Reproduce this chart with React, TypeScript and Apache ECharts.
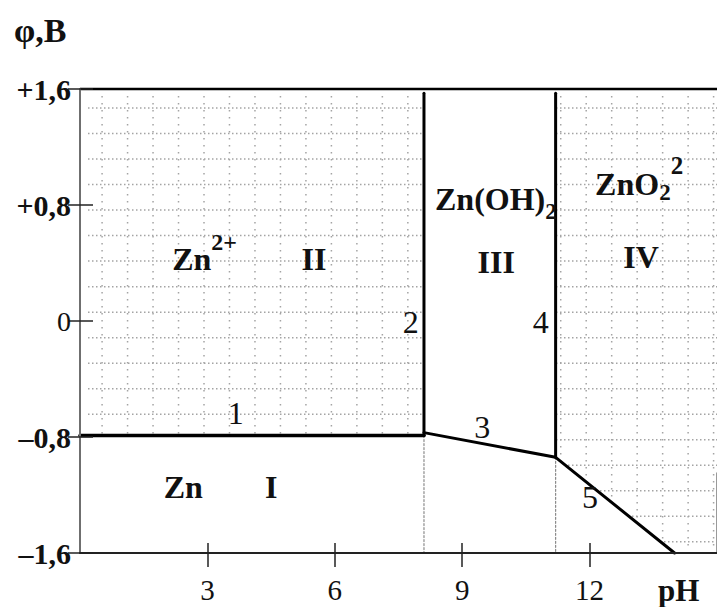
import React, { useEffect, useRef } from 'react';
import * as echarts from 'echarts';

const SERIF = '"Liberation Serif", "Times New Roman", serif';
const INK = '#111';
const DOT = '#a4a4a4';

// Axis ticks and their printed labels
const pHTicks = [3, 6, 9, 12];
const potentialTicks = [-1.6, -0.8, 0, 0.8, 1.6];
const potentialTickLabels = ['–1,6', '–0,8', '0', '+0,8', '+1,6'];

// Equilibrium boundaries of the Zn – H2O system, points are [pH, φ in V]
const line1 = [[0, -0.79], [8.1, -0.79]];
const line2 = [[8.1, -0.79], [8.1, 1.57]];
const line3 = [[8.1, -0.77], [11.2, -0.94]];
const line4 = [[11.2, -0.94], [11.2, 1.57]];
const line5 = [[11.2, -0.94], [14.0, -1.6]];

// Frame pieces and the dotted drop-lines under boundaries 2 and 4
const frameTop = [[0, 1.6], [15, 1.6]];
const frameRight = [[15, -1.6], [15, -1.05]];
const drop2 = [[8.1, -0.79], [8.1, -1.6]];
const drop4 = [[11.2, -0.94], [11.2, -1.6]];

// Stability fields of Zn and Zn(OH)2 are left unshaded
const zoneZn = [[0, -1.6], ...line1, ...line3, line5[1]];
const zoneHydroxide = [[8.1, 1.6], ...line3, [11.2, 1.6]];
const plainZones = [zoneZn, zoneHydroxide];

// Field captions (rich text) and their anchors [pH, φ]
const regionCaptions = [
  '{m|Zn}{sup|2+}',
  '{m|II}',
  '{m|Zn(OH)}{sub|2}',
  '{m|III}',
  '{m|ZnO}{sub2|2}{sup2|2}',
  '{m|IV}',
  '{m|Zn}',
  '{m|I}',
];
const regionAnchors = [
  [2.17, 0.43],
  [5.51, 0.43],
  [8.36, 0.84],
  [9.8, 0.41],
  [12.13, 0.945],
  [13.21, 0.44],
  [2.43, -1.145],
  [4.5, -1.145],
];
const regionAlign = ['left', 'center', 'left', 'center', 'left', 'center', 'center', 'center'];

// Boundary numbers and their anchors [pH, φ]
const boundaryNumbers = ['1', '2', '3', '4', '5'];
const boundaryAnchors = [
  [3.67, -0.634],
  [7.79, -0.007],
  [9.47, -0.731],
  [10.85, -0.007],
  [12.01, -1.214],
];

// Background dot grid spacing
const GRID_START_PH = 0.52;
const GRID_STEP_PH = 0.6;
const GRID_START_V = 1.469;
const GRID_STEP_V = 0.176;

const bold = (size: number, extra: any = {}) => ({
  fontFamily: SERIF,
  fontWeight: 'bold',
  fontSize: size,
  color: INK,
  fill: INK,
  verticalAlign: 'middle',
  ...extra,
});

const captionRich = {
  m: bold(32, { lineHeight: 34 }),
  sup: bold(24, { lineHeight: 24, padding: [0, 0, 34, 0] }),
  sub: bold(23, { lineHeight: 23, padding: [25, 0, 0, 0] }),
  sup2: bold(25, { lineHeight: 25, padding: [0, 0, 36, 0] }),
  sub2: bold(23, { lineHeight: 23, padding: [17, 0, 0, 0] }),
  n: {
    fontFamily: SERIF,
    fontWeight: 'normal',
    fontSize: 32,
    lineHeight: 34,
    color: INK,
    fill: INK,
    verticalAlign: 'middle',
  },
};

const edge = (data: number[][], style: any = {}, z = 4) => ({
  type: 'line',
  data,
  symbol: 'none',
  silent: true,
  clip: false,
  z,
  lineStyle: { color: '#000', width: 3, cap: 'round', join: 'round', ...style },
});

export default function App() {
  const ref = useRef<HTMLDivElement>(null);

  useEffect(() => {
    if (!ref.current) return;
    const chart = echarts.init(ref.current, undefined, { renderer: 'svg' });

    const dotGrid = (_params: any, api: any) => {
      const children: any[] = [];
      const top = api.coord([0, 1.6])[1];
      const bottom = api.coord([0, -1.6])[1];
      const left = api.coord([0, 0])[0];
      const right = api.coord([15, 0])[0];
      for (let k = 0; ; k++) {
        const ph = GRID_START_PH + k * GRID_STEP_PH;
        if (ph >= 15) break;
        const x = api.coord([ph, 0])[0];
        children.push({
          type: 'line',
          shape: { x1: x, y1: top + 7, x2: x, y2: bottom - 2 },
          style: { stroke: DOT, lineWidth: 1.5, lineDash: [1.5, 5.5] },
        });
      }
      for (let k = 0; ; k++) {
        const v = GRID_START_V - k * GRID_STEP_V;
        if (v <= -1.6) break;
        const y = api.coord([0, v])[1];
        children.push({
          type: 'line',
          shape: { x1: left + 8, y1: y, x2: right, y2: y },
          style: { stroke: DOT, lineWidth: 1.5, lineDash: [1.5, 2.5] },
        });
      }
      return { type: 'group', children };
    };

    const option: any = {
      animation: false,
      backgroundColor: '#fff',
      grid: { left: 80, right: 0, top: 89, bottom: 54, outerBoundsMode: 'none' },
      xAxis: [
        {
          type: 'value',
          min: 0,
          max: 15,
          position: 'bottom',
          z: 5,
          axisLine: { show: true, onZero: false, lineStyle: { color: '#222', width: 2 } },
          axisTick: {
            show: true,
            length: 14,
            customValues: pHTicks,
            lineStyle: { color: '#222', width: 1.5 },
          },
          axisLabel: {
            customValues: pHTicks,
            fontFamily: SERIF,
            fontSize: 29,
            color: INK,
            margin: 22,
          },
          splitLine: { show: false },
        },
        {
          type: 'value',
          min: 0,
          max: 15,
          position: 'bottom',
          z: 5,
          axisLine: { show: false, onZero: false },
          axisTick: {
            show: true,
            inside: true,
            length: 10,
            customValues: pHTicks,
            lineStyle: { color: '#222', width: 1.5 },
          },
          axisLabel: { show: false },
          splitLine: { show: false },
        },
      ],
      yAxis: [
        {
          type: 'value',
          min: -1.6,
          max: 1.6,
          interval: 0.8,
          position: 'left',
          z: 5,
          axisLine: { show: true, onZero: false, lineStyle: { color: '#6f6f6f', width: 2 } },
          axisTick: { show: true, length: 12, lineStyle: { color: '#222', width: 1.5 } },
          axisLabel: {
            margin: 9,
            formatter: (v: number) => {
              const i = potentialTicks.findIndex((t) => Math.abs(t - v) < 1e-6);
              if (i < 0) return '';
              const s = potentialTickLabels[i];
              return v === 0 ? `{r|${s}}` : `{b|${s}}`;
            },
            rich: {
              b: { fontFamily: SERIF, fontWeight: 'bold', fontSize: 30, color: INK },
              r: { fontFamily: SERIF, fontWeight: 'normal', fontSize: 28, color: INK },
            },
          },
          splitLine: { show: false },
        },
        {
          type: 'value',
          min: -1.6,
          max: 1.6,
          interval: 0.8,
          position: 'left',
          z: 5,
          axisLine: { show: false, onZero: false },
          axisTick: { show: true, inside: true, length: 13, lineStyle: { color: '#222', width: 1.5 } },
          axisLabel: { show: false },
          splitLine: { show: false },
        },
      ],
      graphic: [
        {
          type: 'text',
          x: 14,
          y: 30,
          style: {
            text: 'φ,B',
            font: `bold 34px ${SERIF}`,
            fill: INK,
            align: 'left',
            verticalAlign: 'middle',
          },
        },
        {
          type: 'text',
          x: 658,
          y: 590,
          style: {
            text: 'pH',
            font: `bold 31px ${SERIF}`,
            fill: INK,
            align: 'left',
            verticalAlign: 'middle',
          },
        },
      ],
      series: [
        {
          type: 'custom',
          silent: true,
          z: 1,
          data: [[0, 0]],
          renderItem: dotGrid,
        },
        {
          type: 'custom',
          silent: true,
          z: 2,
          data: plainZones.map((zone) => zone[1]),
          renderItem: (params: any, api: any) => ({
            type: 'polygon',
            shape: { points: plainZones[params.dataIndex].map((p) => api.coord(p)) },
            style: { fill: '#fff', stroke: null },
          }),
        },
        edge(drop2, { color: '#8a8a8a', width: 1.2, type: [2, 2] }, 3),
        edge(drop4, { color: '#8a8a8a', width: 1.2, type: [2, 2] }, 3),
        edge(frameRight, { color: '#9a9a9a', width: 2 }, 3),
        edge(frameTop, { width: 2.5, cap: 'butt' }),
        edge(line1, { width: 3.5 }),
        edge(line2),
        edge(line3),
        edge(line4),
        edge(line5),
        {
          type: 'custom',
          silent: true,
          z: 6,
          data: regionAnchors,
          renderItem: (params: any, api: any) => {
            const [x, y] = api.coord(regionAnchors[params.dataIndex]);
            return {
              type: 'text',
              x,
              y,
              style: {
                text: regionCaptions[params.dataIndex],
                rich: captionRich,
                align: regionAlign[params.dataIndex],
                verticalAlign: 'middle',
              },
            };
          },
        },
        {
          type: 'custom',
          silent: true,
          z: 6,
          data: boundaryAnchors,
          renderItem: (params: any, api: any) => {
            const [x, y] = api.coord(boundaryAnchors[params.dataIndex]);
            return {
              type: 'text',
              x,
              y,
              style: {
                text: `{n|${boundaryNumbers[params.dataIndex]}}`,
                rich: captionRich,
                align: 'center',
                verticalAlign: 'middle',
              },
            };
          },
        },
      ],
    };

    chart.setOption(option);
    return () => chart.dispose();
  }, []);

  return (
    <div
      ref={ref}
      style={{ position: 'fixed', left: 0, top: 0, width: 717, height: 607, background: '#fff' }}
    />
  );
}
